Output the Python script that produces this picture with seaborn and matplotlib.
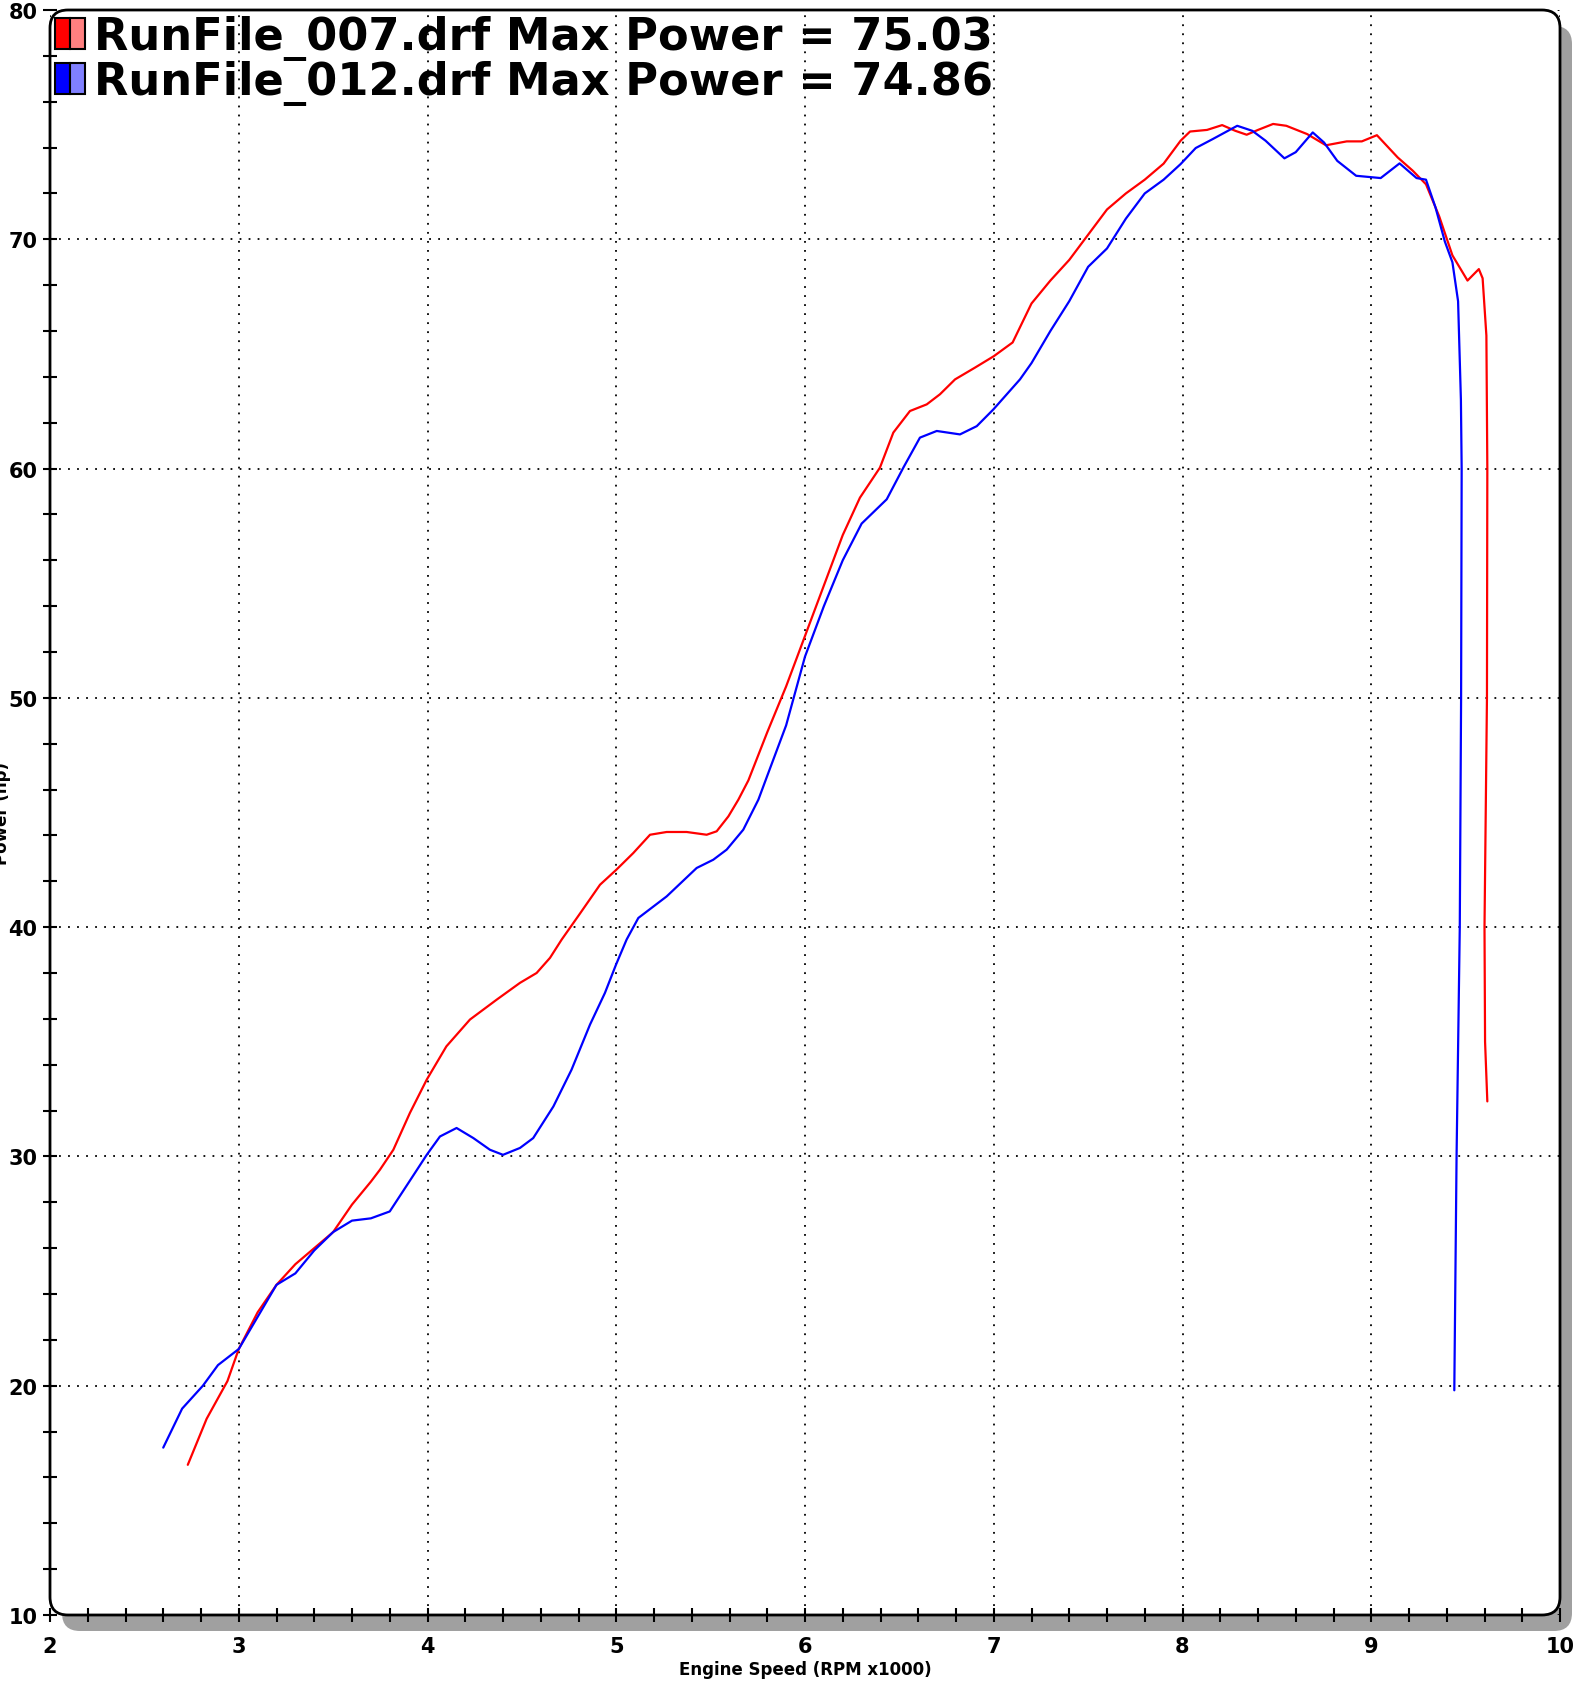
import pandas as pd
import matplotlib
matplotlib.use("Agg")
import matplotlib.pyplot as plt
import seaborn as sns
from matplotlib.patches import FancyBboxPatch, Patch
from matplotlib.legend_handler import HandlerTuple
from matplotlib.ticker import MultipleLocator
from matplotlib.transforms import IdentityTransform

# RunFile_007 (red)
red_rpm = [2.73, 2.83, 2.94, 3.0, 3.1, 3.2, 3.3, 3.4, 3.5, 3.6, 3.7, 3.748, 3.819,
           3.907, 3.996, 4.10, 4.225, 4.367, 4.49, 4.578, 4.649, 4.711, 4.8, 4.914,
           5.0, 5.09, 5.179, 5.267, 5.373, 5.479, 5.532, 5.594, 5.647, 5.7, 5.8, 5.9,
           6.0, 6.1, 6.2, 6.291, 6.397, 6.468, 6.556, 6.645, 6.715, 6.795, 6.9, 7.0,
           7.1, 7.2, 7.3, 7.4, 7.5, 7.6, 7.7, 7.8, 7.9, 7.99, 8.04, 8.13, 8.21, 8.28,
           8.34, 8.40, 8.48, 8.55, 8.66, 8.76, 8.87, 8.95, 9.03, 9.14, 9.22, 9.29,
           9.36, 9.43, 9.51, 9.57, 9.59, 9.61, 9.615, 9.613, 9.60, 9.603, 9.615]
red_hp = [16.55, 18.56, 20.2, 21.6, 23.2, 24.4, 25.3, 26.0, 26.7, 27.9, 28.9, 29.42,
          30.29, 31.9, 33.35, 34.8, 35.97, 36.84, 37.57, 38.0, 38.66, 39.46, 40.5,
          41.85, 42.5, 43.23, 44.03, 44.15, 44.15, 44.03, 44.18, 44.83, 45.56, 46.4,
          48.5, 50.5, 52.7, 54.9, 57.1, 58.73, 60.04, 61.57, 62.51, 62.8, 63.24,
          63.89, 64.4, 64.9, 65.5, 67.2, 68.2, 69.1, 70.2, 71.3, 72.0, 72.6, 73.3,
          74.3, 74.7, 74.77, 74.98, 74.73, 74.56, 74.77, 75.03, 74.95, 74.59, 74.1,
          74.27, 74.27, 74.54, 73.57, 72.99, 72.4, 71.0, 69.3, 68.2, 68.7, 68.3, 65.8,
          60.0, 50.0, 40.0, 35.0, 32.4]

# RunFile_012 (blue)
blue_rpm = [2.60, 2.70, 2.81, 2.89, 3.0, 3.1, 3.2, 3.3, 3.4, 3.5, 3.6, 3.7, 3.8,
            3.916, 3.996, 4.066, 4.154, 4.243, 4.331, 4.40, 4.49, 4.56, 4.667, 4.763,
            4.861, 4.94, 4.999, 5.055, 5.117, 5.267, 5.426, 5.514, 5.585, 5.673, 5.753,
            5.8, 5.9, 6.0, 6.1, 6.2, 6.3, 6.433, 6.521, 6.609, 6.698, 6.821, 6.91,
            6.998, 7.139, 7.2, 7.3, 7.4, 7.5, 7.6, 7.7, 7.8, 7.9, 7.99, 8.07, 8.16,
            8.29, 8.37, 8.44, 8.54, 8.60, 8.69, 8.75, 8.82, 8.92, 9.05, 9.15, 9.24,
            9.29, 9.34, 9.39, 9.43, 9.46, 9.475, 9.479, 9.476, 9.469, 9.452, 9.44]
blue_hp = [17.3, 19.0, 20.0, 20.9, 21.6, 23.0, 24.4, 24.9, 25.9, 26.7, 27.2, 27.3,
           27.6, 29.06, 30.07, 30.87, 31.24, 30.8, 30.29, 30.07, 30.37, 30.8, 32.18,
           33.78, 35.75, 37.13, 38.37, 39.46, 40.4, 41.34, 42.58, 42.94, 43.38, 44.25,
           45.56, 46.6, 48.8, 51.8, 54.0, 56.0, 57.6, 58.66, 60.04, 61.35, 61.64,
           61.49, 61.85, 62.58, 63.89, 64.6, 66.0, 67.3, 68.8, 69.6, 70.9, 72.0, 72.6,
           73.28, 73.98, 74.37, 74.95, 74.73, 74.30, 73.53, 73.8, 74.66, 74.22, 73.42,
           72.77, 72.67, 73.31, 72.67, 72.6, 71.4, 69.9, 69.0, 67.3, 63.0, 60.0, 50.0,
           40.0, 30.0, 19.8]

labels = ["RunFile_007.drf Max Power = 75.03", "RunFile_012.drf Max Power = 74.86"]
colors = ["#ff0000", "#0000ff"]
light = ["#ff8080", "#8080ff"]

red_df = pd.DataFrame({"rpm": red_rpm, "hp": red_hp})
blue_df = pd.DataFrame({"rpm": blue_rpm, "hp": blue_hp})

sns.set_style("white")
plt.rcParams["font.family"] = ["DejaVu Sans"]
plt.rcParams["text.color"] = "black"
plt.rcParams["axes.labelcolor"] = "black"
plt.rcParams["xtick.color"] = "black"
plt.rcParams["ytick.color"] = "black"

W, H = 1583, 1690
fig = plt.figure(figsize=(W / 100, H / 100), dpi=100)
fig.patch.set_facecolor("white")

# axes placement in pixels
L, B, AW, AH = 50, 74, 1510, 1605
ax = fig.add_axes([L / W, B / H, AW / W, AH / H])
ax.set_facecolor("none")

# shadow + white rounded background
shadow = FancyBboxPatch((L + 12, B - 16), AW, AH, boxstyle="round,pad=0,rounding_size=18",
                        transform=IdentityTransform(), facecolor="#a0a0a0",
                        edgecolor="none", zorder=-3)
bg = FancyBboxPatch((L, B), AW, AH, boxstyle="round,pad=0,rounding_size=18",
                    transform=IdentityTransform(), facecolor="white",
                    edgecolor="none", zorder=-2)
fig.patches.extend([shadow, bg])

sns.lineplot(data=red_df, x="rpm", y="hp", sort=False, estimator=None,
             color=colors[0], linewidth=1.6, ax=ax)
sns.lineplot(data=blue_df, x="rpm", y="hp", sort=False, estimator=None,
             color=colors[1], linewidth=1.6, ax=ax)
for ln in ax.get_lines():
    ln.set_solid_joinstyle("round")
    ln.set_solid_capstyle("round")

ax.set_xlim(2, 10)
ax.set_ylim(10, 80)
ax.xaxis.set_major_locator(MultipleLocator(1))
ax.xaxis.set_minor_locator(MultipleLocator(0.2))
ax.yaxis.set_major_locator(MultipleLocator(10))
ax.yaxis.set_minor_locator(MultipleLocator(2))
ax.grid(True, which="major", color="black", linestyle=(0, (1, 4)), linewidth=1.3)

for s in ax.spines.values():
    s.set_visible(False)

frame = FancyBboxPatch((L, B), AW, AH, boxstyle="round,pad=0,rounding_size=18",
                       transform=IdentityTransform(), facecolor="none",
                       edgecolor="black", linewidth=2, zorder=5)
fig.patches.append(frame)

ax.tick_params(axis="both", which="both", direction="inout", color="black",
               width=1.5, left=True, bottom=True)
ax.tick_params(axis="both", which="minor", length=10)
ax.tick_params(axis="y", which="major", length=10, pad=4, labelsize=15)
ax.tick_params(axis="x", which="major", length=10, pad=10, labelsize=15)
for lab in ax.get_xticklabels() + ax.get_yticklabels():
    lab.set_fontweight("bold")

ax.set_xlabel("Engine Speed (RPM x1000)", fontsize=12, fontweight="bold")
ax.xaxis.set_label_coords(0.5, -0.028)
ax.set_ylabel("Power (hp)", fontsize=12, fontweight="bold")
ax.yaxis.set_label_coords(-0.026, 0.5)

handles = [(Patch(facecolor=colors[i], edgecolor="black", linewidth=1.5),
            Patch(facecolor=light[i], edgecolor="black", linewidth=1.5)) for i in range(2)]
leg = ax.legend(handles, labels, handler_map={tuple: HandlerTuple(ndivide=None, pad=0)},
                loc="upper left", bbox_to_anchor=(0.0, 1.0), frameon=False,
                borderaxespad=0.12, borderpad=0, handlelength=0.66, handleheight=0.7,
                handletextpad=0.2, labelspacing=0.0,
                prop={"weight": "bold", "size": 32.2})

fig.savefig("out.png", dpi=100)
